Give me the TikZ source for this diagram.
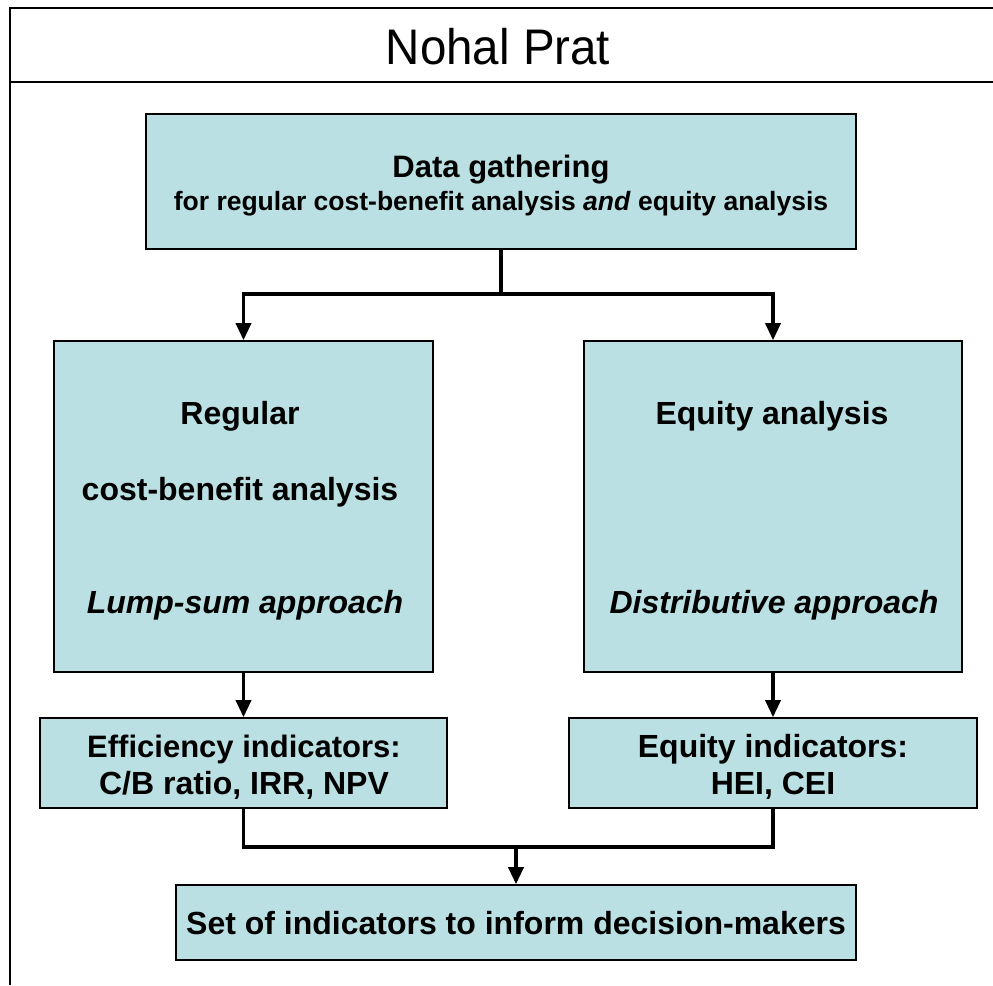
\documentclass[tikz,border=0pt]{standalone}
\usepackage{fontspec}
\setmainfont{Liberation Sans}
\newfontfamily\titlefont[FakeStretch=0.95]{Liberation Sans}
\usetikzlibrary{arrows.meta}
\definecolor{boxfill}{RGB}{187,224,227}
\tikzset{
  frameline/.style={line width=2.5pt, black},
  boxnode/.style={draw=black, line width=1.6pt, fill=boxfill, rectangle, inner sep=0pt},
  txt/.style={anchor=base, inner sep=0pt, font=\fontsize{32}{36}\selectfont\bfseries},
  midtxt/.style={anchor=base, inner sep=0pt, font=\fontsize{31}{36}\selectfont\bfseries},
  smalltxt/.style={anchor=base, inner sep=0pt, font=\fontsize{26.5}{30}\selectfont\bfseries},
  conn/.style={line width=3.4pt, black},
  arrowconn/.style={conn, -{Triangle[width=15pt,length=17pt]}}
}
\begin{document}
\begin{tikzpicture}[x=1pt,y=-1pt]
\useasboundingbox (0,0) rectangle (993,985);
% frame
\draw[frameline] (10,985) -- (10,8) -- (993,8);
\draw[frameline] (10,82) -- (993,82);
\node[anchor=base, inner sep=0pt, font=\titlefont\fontsize{50}{56}\selectfont] (title) at (498,64) {Nohal Prat};
% boxes
\node[boxnode, minimum width=710pt, minimum height=135pt] (top) at (501,181.5) {};
\node[boxnode, minimum width=379pt, minimum height=331pt] (left) at (243.5,506.5) {};
\node[boxnode, minimum width=378pt, minimum height=331pt] (right) at (773,506.5) {};
\node[boxnode, minimum width=407pt, minimum height=90pt] (leftind) at (243.5,763) {};
\node[boxnode, minimum width=408pt, minimum height=90pt] (rightind) at (773,763) {};
\node[boxnode, minimum width=680pt, minimum height=75pt] (bottom) at (516,922.5) {};
% texts
\node[midtxt] (t1) at (501,177) {Data gathering};
\node[smalltxt] (t2) at (501,210) {for regular cost-benefit analysis \textit{and} equity analysis};
\node[txt] (l1) at (240,424) {Regular};
\node[txt] (l2) at (240,500) {cost-benefit analysis};
\node[txt] (l3) at (245,613) {\itshape Lump-sum approach};
\node[txt] (r1) at (772,424) {Equity analysis};
\node[txt] (r2) at (774,613) {\itshape Distributive approach};
\node[midtxt] (li1) at (244,757) {Efficiency indicators:};
\node[txt] (li2) at (244,794) {C/B ratio, IRR, NPV};
\node[txt] (ri1) at (773,757) {Equity indicators:};
\node[txt] (ri2) at (773,794) {HEI, CEI};
\node[txt] (b1) at (516,934) {Set of indicators to inform decision-makers};
% connectors
\coordinate (split) at (501,294);
\coordinate (join) at (516,847);
\draw[conn] (top.south) -- (split);
\draw[arrowconn] (split) -| (left.north);
\draw[arrowconn] (split) -| (right.north);
\draw[arrowconn] (left.south) -- (leftind.north);
\draw[arrowconn] (right.south) -- (rightind.north);
\draw[conn] (leftind.south) |- (join);
\draw[conn] (rightind.south) |- (join);
\draw[arrowconn] (join) -- (bottom.north);
\end{tikzpicture}
\end{document}
